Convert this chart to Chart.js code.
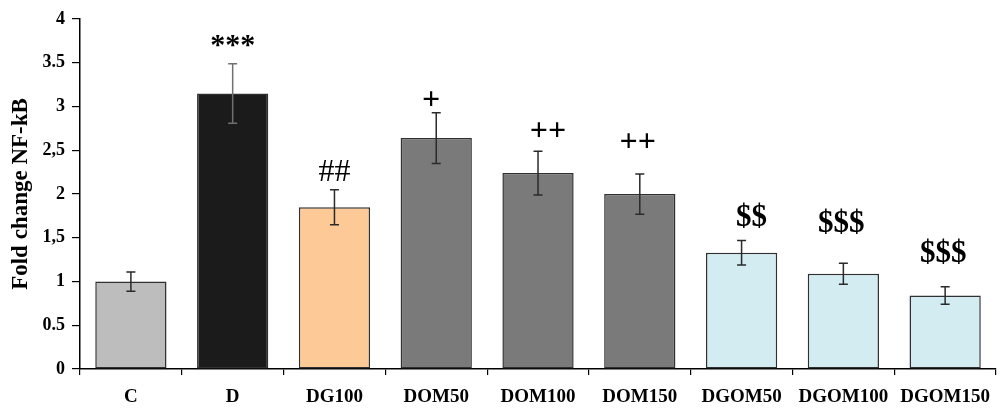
<!DOCTYPE html>
<html>
<head>
<meta charset="utf-8">
<script src="https://cdn.jsdelivr.net/npm/chart.js@4/dist/chart.umd.min.js"></script>
<style>
  html, body { margin: 0; padding: 0; background: #fff; }
  #wrap { width: 1001px; height: 412px; position: relative; }
</style>
</head>
<body>
<div id="wrap"><canvas id="c"></canvas></div>
<script>
// ---- data ----
const categories = ['C', 'D', 'DG100', 'DOM50', 'DOM100', 'DOM150', 'DGOM50', 'DGOM100', 'DGOM150'];
const foldChange = [1.0, 3.15, 1.85, 2.64, 2.24, 2.0, 1.33, 1.09, 0.84];
const errors = [0.11, 0.34, 0.20, 0.29, 0.25, 0.23, 0.14, 0.12, 0.10];
const significance = ['', '***', '##', '+', '++', '++', '$$', '$$$', '$$$'];
const significanceLevel = [0, 3.75, 2.27, 3.09, 2.74, 2.61, 1.76, 1.69, 1.35];
const yTickLabels = ['0', '0.5', '1', '1,5', '2', '2,5', '3', '3.5', '4'];

// ---- styles ----
const barColors = ['#bdbdbd', '#1b1b1b', '#fcc997', '#7a7a7a', '#7a7a7a', '#7a7a7a', '#d3ecf2', '#d3ecf2', '#d3ecf2'];
const errColors = ['#2a2a2a', '#707070', '#2a2a2a', '#2a2a2a', '#2a2a2a', '#2a2a2a', '#2a2a2a', '#2a2a2a', '#2a2a2a'];
const sigFont = ['', 'bold 30px', '32px', 'bold 32px', 'bold 32px', 'bold 32px', 'bold 31px', 'bold 31px', 'bold 31px'];
const sigShiftPx = [0, 0, 0, -5, 10, -2, 10, -2, -2];
const FONT = '"Liberation Serif", "Times New Roman", serif';

const errorBarPlugin = {
  id: 'errorBars',
  afterDatasetsDraw(chart) {
    const ctx = chart.ctx;
    const meta = chart.getDatasetMeta(0);
    const y = chart.scales.y;
    ctx.save();
    meta.data.forEach((bar, i) => {
      const v = foldChange[i], e = errors[i];
      const top = y.getPixelForValue(v + e);
      const bot = y.getPixelForValue(v - e);
      ctx.strokeStyle = errColors[i];
      ctx.lineWidth = 1.5;
      ctx.beginPath();
      ctx.moveTo(bar.x, top); ctx.lineTo(bar.x, bot);
      ctx.moveTo(bar.x - 4.5, top); ctx.lineTo(bar.x + 4.5, top);
      ctx.moveTo(bar.x - 4.5, bot); ctx.lineTo(bar.x + 4.5, bot);
      ctx.stroke();
      const label = significance[i];
      if (label) {
        ctx.font = sigFont[i] + ' ' + FONT;
        ctx.fillStyle = '#000';
        ctx.textAlign = 'center';
        ctx.textBaseline = 'alphabetic';
        const m = ctx.measureText(label);
        const cy = y.getPixelForValue(significanceLevel[i]);
        const base = cy + (m.actualBoundingBoxAscent - m.actualBoundingBoxDescent) / 2;
        ctx.fillText(label, bar.x + sigShiftPx[i], base);
      }
    });
    ctx.restore();
  }
};

new Chart(document.getElementById('c'), {
  type: 'bar',
  data: {
    labels: categories,
    datasets: [{
      data: foldChange,
      backgroundColor: barColors,
      borderColor: '#303030',
      borderWidth: 1.5,
      borderSkipped: false,
      categoryPercentage: 1.0,
      barPercentage: 0.7
    }]
  },
  options: {
    responsive: true,
    maintainAspectRatio: false,
    animation: false,
    devicePixelRatio: 1,
    layout: { padding: { top: 19, right: 0, left: 0, bottom: 0 } },
    plugins: { legend: { display: false }, tooltip: { enabled: false } },
    scales: {
      x: {
        offset: true,
        grid: { offset: true, drawOnChartArea: false, drawTicks: true, tickLength: 6, color: '#000', lineWidth: 1.2 },
        border: { color: '#000', width: 1.5 },
        ticks: { color: '#000', font: { family: FONT, size: 19, weight: 'bold' }, padding: 11, maxRotation: 0, autoSkip: false },
        afterFit(scale) { scale.height = 43; }
      },
      y: {
        min: 0, max: 4,
        grid: { drawOnChartArea: false, drawTicks: true, tickLength: 8, color: '#000', lineWidth: 1.2 },
        border: { color: '#000', width: 1.5 },
        ticks: {
          stepSize: 0.5, color: '#000', padding: 7,
          font: { family: FONT, size: 18, weight: 'bold' },
          callback: (val, idx) => yTickLabels[idx]
        },
        title: {
          display: true, text: 'Fold change NF-kB', color: '#000',
          font: { family: FONT, size: 23, weight: 'bold' },
          padding: { top: 7, bottom: 0 }
        },
        afterFit(scale) { scale.width = 80; }
      }
    }
  },
  plugins: [errorBarPlugin]
});
</script>
</body>
</html>
